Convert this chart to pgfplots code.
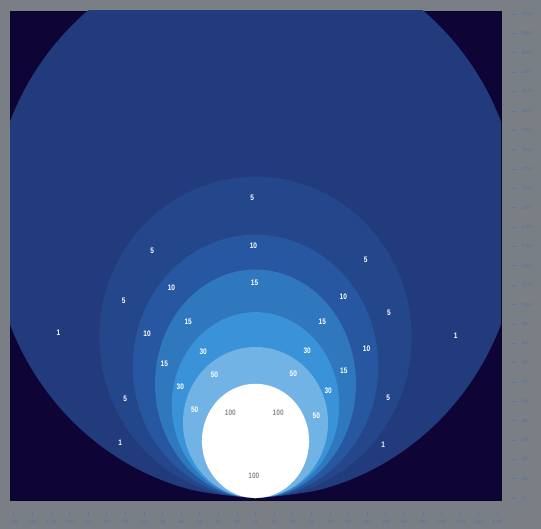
\documentclass[border=0pt]{standalone}
\usepackage{pgfplots}
\pgfplotsset{compat=1.18}
\usepackage{fontspec}
\setmainfont{Liberation Sans}
\newfontfamily\lblfont[FakeStretch=0.82]{Liberation Sans}

\definecolor{pagegray}{HTML}{7A7F86}
\definecolor{navy}{HTML}{0E0436}
\definecolor{tickblue}{HTML}{4E6DAA}
\definecolor{c1}{HTML}{213B7C}
\definecolor{c5}{HTML}{24468A}
\definecolor{c10}{HTML}{2857A1}
\definecolor{c15}{HTML}{2F78BE}
\definecolor{c30}{HTML}{3A93D9}
\definecolor{c50}{HTML}{72B3E6}

% contour outlines
\pgfplotstableread{
x y
0 0
36.75 4.84
71 19.03
100.4 41.6
123 71
137.2 105.25
142 142
137.2 178.75
123 213
100.4 242.4
71 265
36.75 279.2
0 284
-36.75 279.2
-71 265
-100.4 242.4
-123 213
-137.2 178.75
-142 142
-137.2 105.25
-123 71
-100.4 41.6
-71 19.03
-36.75 4.84
0 0
}\cA
\pgfplotstableread{
x y
0 0
21.74 2.83
42 11.12
59.4 24.31
72.74 41.5
81.14 61.52
84 83
81.14 104.48
72.74 124.5
59.4 141.69
42 154.88
21.74 163.17
0 166
-21.74 163.17
-42 154.88
-59.4 141.69
-72.74 124.5
-81.14 104.48
-84 83
-81.14 61.52
-72.74 41.5
-59.4 24.31
-42 11.12
-21.74 2.83
0 0
}\cB
\pgfplotstableread{
x y
0 0
17.08 2.32
33 9.11
46.67 19.92
57.16 34
63.75 50.4
66 68
63.75 85.6
57.16 102
46.67 116.08
33 126.89
17.08 133.68
0 136
-17.08 133.68
-33 126.89
-46.67 116.08
-57.16 102
-63.75 85.6
-66 68
-63.75 50.4
-57.16 34
-46.67 19.92
-33 9.11
-17.08 2.32
0 0
}\cC
\pgfplotstableread{
x y
0 0
13.98 2.01
27 7.91
38.18 17.28
46.76 29.5
52.16 43.73
54 59
52.16 74.27
46.76 88.5
38.18 100.72
27 110.09
13.98 115.99
0 118
-13.98 115.99
-27 110.09
-38.18 100.72
-46.76 88.5
-52.16 74.27
-54 59
-52.16 43.73
-46.76 29.5
-38.18 17.28
-27 7.91
-13.98 2.01
0 0
}\cD
\pgfplotstableread{
x y
0 0
11.65 1.64
22.5 6.43
31.82 14.06
38.97 24
43.47 35.58
45 48
43.47 60.42
38.97 72
31.82 81.94
22.5 89.57
11.65 94.36
0 96
-11.65 94.36
-22.5 89.57
-31.82 81.94
-38.97 72
-43.47 60.42
-45 48
-43.47 35.58
-38.97 24
-31.82 14.06
-22.5 6.43
-11.65 1.64
0 0
}\cE
\pgfplotstableread{
x y
0 0
10.09 1.33
19.5 5.23
27.58 11.42
33.77 19.5
37.67 28.91
39 39
37.67 49.09
33.77 58.5
27.58 66.58
19.5 72.77
10.09 76.67
0 78
-10.09 76.67
-19.5 72.77
-27.58 66.58
-33.77 58.5
-37.67 49.09
-39 39
-37.67 28.91
-33.77 19.5
-27.58 11.42
-19.5 5.23
-10.09 1.33
0 0
}\cF
\pgfplotstableread{
x y
0 0
7.45 1.01
14.4 3.95
20.36 8.64
24.94 14.75
27.82 21.87
28.8 29.5
27.82 37.13
24.94 44.25
20.36 50.36
14.4 55.05
7.45 57.99
0 59
-7.45 57.99
-14.4 55.05
-20.36 50.36
-24.94 44.25
-27.82 37.13
-28.8 29.5
-27.82 21.87
-24.94 14.75
-20.36 8.64
-14.4 3.95
-7.45 1.01
0 0
}\cG

\pgfplotstableread{
x y lab
-1.8 155.1 5
-1.1 130.2 10
-0.5 111.2 15
-55.6 127.7 5
-45.2 108.5 10
-70.9 101.8 5
-36.2 91.1 15
-58.3 85.0 10
-28.1 75.6 30
-49.0 69.2 15
-22.1 63.9 50
-40.4 57.5 30
-70.0 51.5 5
-32.7 45.5 50
-72.7 28.3 1
-106.0 85.1 1
59.2 122.9 5
47.2 104.0 10
71.7 95.7 5
35.9 91.1 15
59.7 77.0 10
27.8 76.1 30
47.5 65.8 15
20.3 64.4 50
39.1 55.3 30
71.4 51.8 5
32.7 42.4 50
68.7 27.7 1
107.6 83.7 1
}\labW
\pgfplotstableread{
x y lab
-13.5 44.1 100
12.2 44.1 100
-0.9 11.4 100
}\labG

\begin{document}
\begin{tikzpicture}
\fill[pagegray, use as bounding box] (-10bp,-29bp) rectangle (531bp,500bp);
\begin{axis}[
    at={(0,0)}, anchor=south west,
    scale only axis, width=491bp, height=489bp,
    xmin=-132, xmax=132, ymin=-1, ymax=251.5,
    axis background/.style={fill=navy},
    axis line style={draw=navy!70!black, line width=0.8pt},
    xtick={-130,-120,...,130}, ytick={0,10,...,250},
    major tick length=0pt,
    yticklabel pos=right,
    yticklabel={\textcolor{tickblue!60!pagegray}{\rule[0.45ex]{4bp}{0.5bp}}\hspace{6bp}\pgfmathprintnumber{\tick}},
    yticklabel style={anchor=west, xshift=7bp, font=\fontsize{5.5}{6}\selectfont, text=tickblue},
    xticklabel={\textcolor{tickblue!60!pagegray}{\rule{0.5bp}{3.5bp}}\\[2.5bp]\pgfmathparse{abs(\tick)}\pgfmathprintnumber{\pgfmathresult}},
    xticklabel style={anchor=north, yshift=-8bp, align=center, font=\fontsize{5.5}{6}\selectfont, text=tickblue},
]
\addplot[fill=c1, draw=none, smooth, tension=0.6] table {\cA};
\addplot[fill=c5, draw=none, smooth, tension=0.6] table {\cB};
\addplot[fill=c10, draw=none, smooth, tension=0.6] table {\cC};
\addplot[fill=c15, draw=none, smooth, tension=0.6] table {\cD};
\addplot[fill=c30, draw=none, smooth, tension=0.6] table {\cE};
\addplot[fill=c50, draw=none, smooth, tension=0.6] table {\cF};
\addplot[fill=white, draw=none, smooth, tension=0.6] table {\cG};
\addplot[only marks, mark=none, nodes near coords, point meta=explicit symbolic,
    nodes near coords align={anchor=center},
    every node near coord/.append style={font=\lblfont\bfseries\fontsize{8}{8}\selectfont, text=white, inner sep=0pt}]
    table[meta=lab] {\labW};
\addplot[only marks, mark=none, nodes near coords, point meta=explicit symbolic,
    nodes near coords align={anchor=center},
    every node near coord/.append style={font=\lblfont\bfseries\fontsize{8}{8}\selectfont, text=gray!90, inner sep=0pt}]
    table[meta=lab] {\labG};
\end{axis}
\end{tikzpicture}
\end{document}
